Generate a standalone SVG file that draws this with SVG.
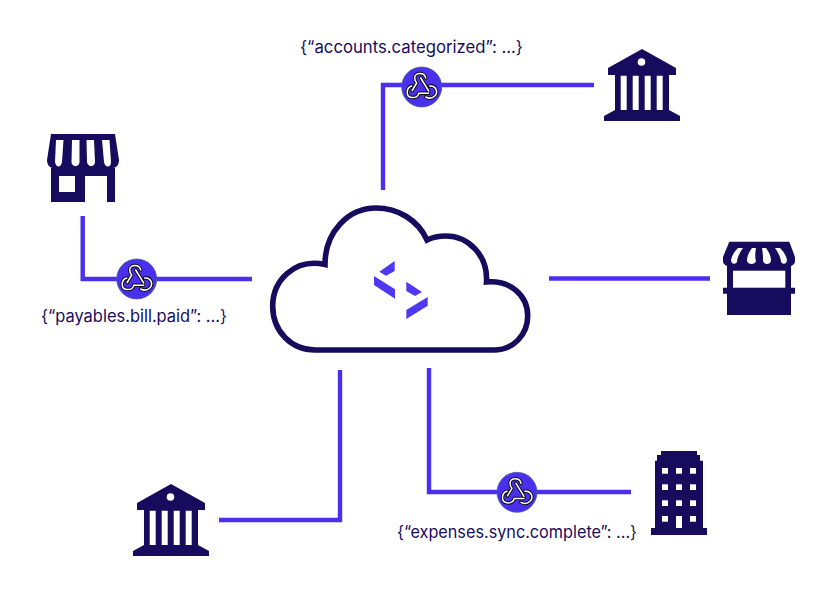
<svg xmlns="http://www.w3.org/2000/svg" width="822" height="614" viewBox="0 0 822 614">
<style>
.navy{fill:#170b5e}
.hole{fill:#fff}
.line{fill:none;stroke:#4a30ee;stroke-width:4.4;stroke-linejoin:miter}
.label{font-family:"Inter","Lato","Liberation Sans",sans-serif;font-size:17px;fill:#170b5e}
.disc{fill:#4a30ee;stroke:#3f5f96;stroke-width:.8}
.wo{fill:none;stroke:#0c0c14;stroke-width:3.500;stroke-linecap:round;stroke-linejoin:round}
.wi{fill:none;stroke:#fff;stroke-width:1.500;stroke-linecap:round;stroke-linejoin:round}
</style>
<defs>
<g id="hook">
<path class="wo" d="M4,-9 C3,-15 -7,-15 -7,-9 C-7,-6 -6,-5 -5,-4 L-9.500,3.500 M-1,-9 L7,4 M-10,-1 C-16,1 -16,10 -10,10.500 C-6,11 -3,9 -3,6.300 L7,6.300 M8,-1 C14,-2 17,5 13,9 C10,12 6,11 4,10"/>
<path class="wi" d="M4,-9 C3,-15 -7,-15 -7,-9 C-7,-6 -6,-5 -5,-4 L-9.500,3.500 M-1,-9 L7,4 M-10,-1 C-16,1 -16,10 -10,10.500 C-6,11 -3,9 -3,6.300 L7,6.300 M8,-1 C14,-2 17,5 13,9 C10,12 6,11 4,10"/>
</g>
<g id="bankshape">
<path class="navy" fill-rule="evenodd" d="M642,49 L676,68 L676,75 L669,75 L669,110 L680,116 L680,121 L604,121 L604,116 L615,110 L615,75 L608,75 L608,68 Z M620.700,75.700 H626.700 V110 H620.700 Z M632.700,75.700 H638.700 V110 H632.700 Z M644.700,75.700 H650.700 V110 H644.700 Z M656.700,75.700 H662.700 V110 H656.700 Z"/>
<circle class="hole" cx="641.500" cy="62" r="3.800"/>
</g>
</defs>
<rect width="822" height="614" fill="#fff"/>
<g id="connectors">
<path class="line" d="M383,190 V85 H594"/>
<path class="line" d="M82.700,216 V279 H252"/>
<path class="line" d="M549,278.500 H710"/>
<path class="line" d="M340,370 V520 H219"/>
<path class="line" d="M429,368 V492 H631"/>
</g>
<g id="cloud">
<path d="M315,350 H494 C513,350 527.700,335 527.700,316 C527.700,295 510,280 486.500,282 C488,255 468,236 446,236 C439,236 433,237 427,240 C418,220 398,208 376,208 C348,208 325,232 325,264.500 C295,258 272.700,280 272.700,306 C272.700,332 292,350 315,350 Z" fill="#fff" stroke="#170b5e" stroke-width="5.600"/>
<g fill="#5038f0">
<polygon points="394.700,261 394.700,271 386,275.700 379.300,271.700"/>
<polygon points="374,276 395,289.300 395,298.700 374,285"/>
<polygon points="406.300,281.700 422,292 415,296 406.300,291"/>
<polygon points="427.700,297 427.700,305.700 406.300,319 406.300,310"/>
</g>
</g>
<g id="badge-accounts">
<circle class="disc" cx="421.700" cy="87" r="20"/>
<use href="#hook" x="421.700" y="87"/>
<text class="label" x="300" y="52.500" textLength="223" lengthAdjust="spacingAndGlyphs">{“accounts.categorized”: ...}</text>
</g>
<g id="badge-payables">
<circle class="disc" cx="136.700" cy="279" r="20"/>
<use href="#hook" x="136.700" y="279"/>
<text class="label" x="41" y="321.500" textLength="186" lengthAdjust="spacingAndGlyphs">{“payables.bill.paid”: ...}</text>
</g>
<g id="badge-expenses">
<circle class="disc" cx="517" cy="492.300" r="20"/>
<use href="#hook" x="517" y="492.300"/>
<text class="label" x="397" y="538" textLength="240" lengthAdjust="spacingAndGlyphs">{“expenses.sync.complete”: ...}</text>
</g>
<g id="bank-top"><use href="#bankshape"/></g>
<g id="bank-bottom"><use href="#bankshape" x="-471" y="435"/></g>
<g id="store-left">
<path class="navy" d="M51,134 H115 L119,160 C119,165 116,168 113,168 H115 V202 H107 V176 H85 V202 H51 V168 H53 C50,168 47,165 47,160 Z"/>
<rect class="hole" x="59" y="176" width="16" height="16"/>
<g class="hole">
<path d="M56,140 H63.500 L62,162 C61,168 56,168 55,162 Z"/>
<path d="M72,140 H79.500 L79.500,162 C79.500,167.500 71.500,167.500 71.500,162 Z"/>
<path d="M86.500,140 H94 L95,162 C95,167.500 87.500,167.500 87,162 Z"/>
<path d="M102,140 H109.500 L111,162 C111,168 105,168 104,162 Z"/>
</g>
</g>
<g id="stall-right">
<path class="navy" d="M729.300,241.700 H789.300 L795,257 V261 C795,264 793,265 791,266 V287.700 H795 V293.700 H791 V315 H727 V293.700 H723 V287.700 H727 V266 C725,265 723,264 723,261 V257 Z"/>
<rect class="hole" x="733" y="270.700" width="52.300" height="17"/>
<g class="hole">
<path d="M738,248 H743 C740,252 737,258 737,262 C735,265 731,264 731,260 C732,255 735,251 738,248 Z"/>
<path d="M752,248 H756 C755,253 755,258 756,261 C755,265 748,265 747,261 C747,256 749,252 752,248 Z"/>
<path d="M762,248 H766 C769,252 771,256 771,261 C770,265 764,265 763,261 C763,257 763,253 762,248 Z"/>
<path d="M775,248 H780 C783,251 786,255 787,260 C787,264 783,265 781,262 C781,258 778,252 775,248 Z"/>
</g>
</g>
<g id="building">
<path class="navy" d="M661,451 H697 V455 H700 V460.700 H703 V528 H707 V535 H651 V528 H655 V460.700 H657 V455 H661 Z"/>
<g class="hole">
<rect x="662" y="468" width="6" height="5.700"/><rect x="676" y="468" width="6" height="5.700"/><rect x="690" y="468" width="6" height="5.700"/>
<rect x="662" y="484.300" width="6" height="5.700"/><rect x="676" y="484.300" width="6" height="5.700"/><rect x="690" y="484.300" width="6" height="5.700"/>
<rect x="662" y="500.300" width="6" height="5.700"/><rect x="676" y="500.300" width="6" height="5.700"/><rect x="690" y="500.300" width="6" height="5.700"/>
<rect x="662" y="516" width="6" height="5.700"/><rect x="676" y="516" width="6" height="12"/><rect x="690" y="516" width="6" height="5.700"/>
</g>
</g>
</svg>
